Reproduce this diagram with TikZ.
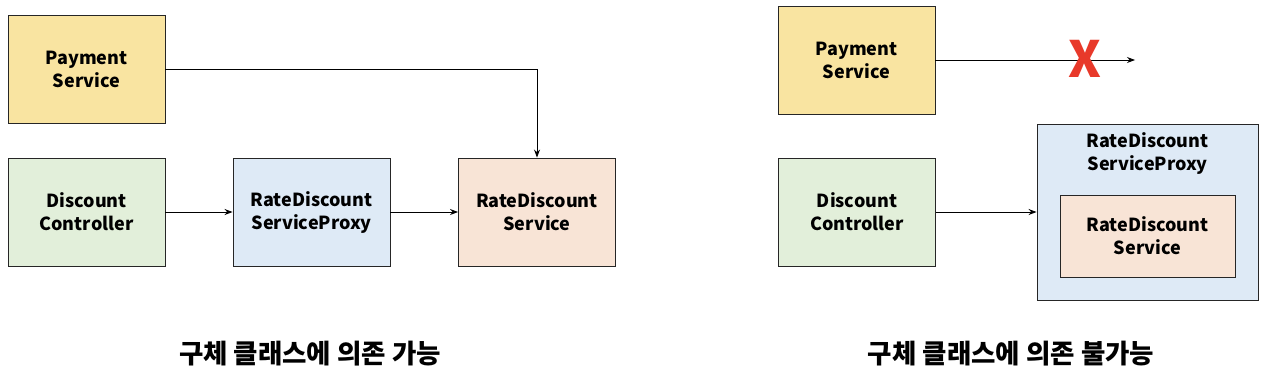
\documentclass[tikz,border=0pt]{standalone}
\usepackage{fontspec}
\setmainfont{Noto Sans CJK KR}
\usetikzlibrary{arrows.meta}
\definecolor{payyellow}{HTML}{F9E4A1}
\definecolor{ctrlgreen}{HTML}{E2EFDA}
\definecolor{proxyblue}{HTML}{DEEAF6}
\definecolor{rdspeach}{HTML}{F8E4D6}
\definecolor{crossred}{HTML}{E8392A}
\begin{document}
\begin{tikzpicture}[x=1pt, y=-1pt,
  box/.style={draw=black!85, line width=0.9pt, minimum width=157pt, minimum height=108pt,
    inner sep=0pt, align=center, font=\fontsize{18}{23}\selectfont\bfseries},
  link/.style={-{Stealth[length=8pt,width=6pt]}, line width=0.9pt},
  caption/.style={font=\fontsize{26.5}{30}\selectfont\bfseries}]
  \useasboundingbox (0,0) rectangle (1268,386);
  % left: client may depend on the concrete class
  \node[box, fill=payyellow] (payL) at (86.5,69.5) {Payment\\Service};
  \node[box, fill=ctrlgreen] (ctrlL) at (86.5,212) {Discount\\Controller};
  \node[box, fill=proxyblue] (proxyL) at (311.5,212) {RateDiscount\\ServiceProxy};
  \node[box, fill=rdspeach] (rdsL) at (537,212) {RateDiscount\\Service};
  \draw[link] (ctrlL) -- (proxyL);
  \draw[link] (proxyL) -- (rdsL);
  \draw[link] (payL.east) -| (rdsL.north);
  \node[caption] (capL) at (310,354) {구체 클래스에 의존 가능};
  % right: proxy wraps the service, no direct access
  \node[box, fill=payyellow] (payR) at (856.5,60) {Payment\\Service};
  \node[box, fill=ctrlgreen] (ctrlR) at (857,212) {Discount\\Controller};
  \node[box, fill=proxyblue, minimum width=221pt, minimum height=176pt] (proxyR) at (1147.5,212.5) {};
  \node[font=\fontsize{18}{23}\selectfont\bfseries, align=center] (proxyRlbl) at (1147.5,153) {RateDiscount\\ServiceProxy};
  \node[box, fill=rdspeach, minimum width=175pt, minimum height=82pt] (rdsR) at (1147.5,236) {RateDiscount\\Service};
  \coordinate (blocked) at (1135,60);
  \draw[link] (payR.east) -- (blocked);
  \node[text=crossred, font=\fontsize{50}{50}\selectfont\bfseries] (cross) at (1085,59) {X};
  \draw[link] (ctrlR.east) -- (ctrlR.east -| proxyR.west);
  \node[caption] (capR) at (1011,354) {구체 클래스에 의존 불가능};
\end{tikzpicture}
\end{document}
